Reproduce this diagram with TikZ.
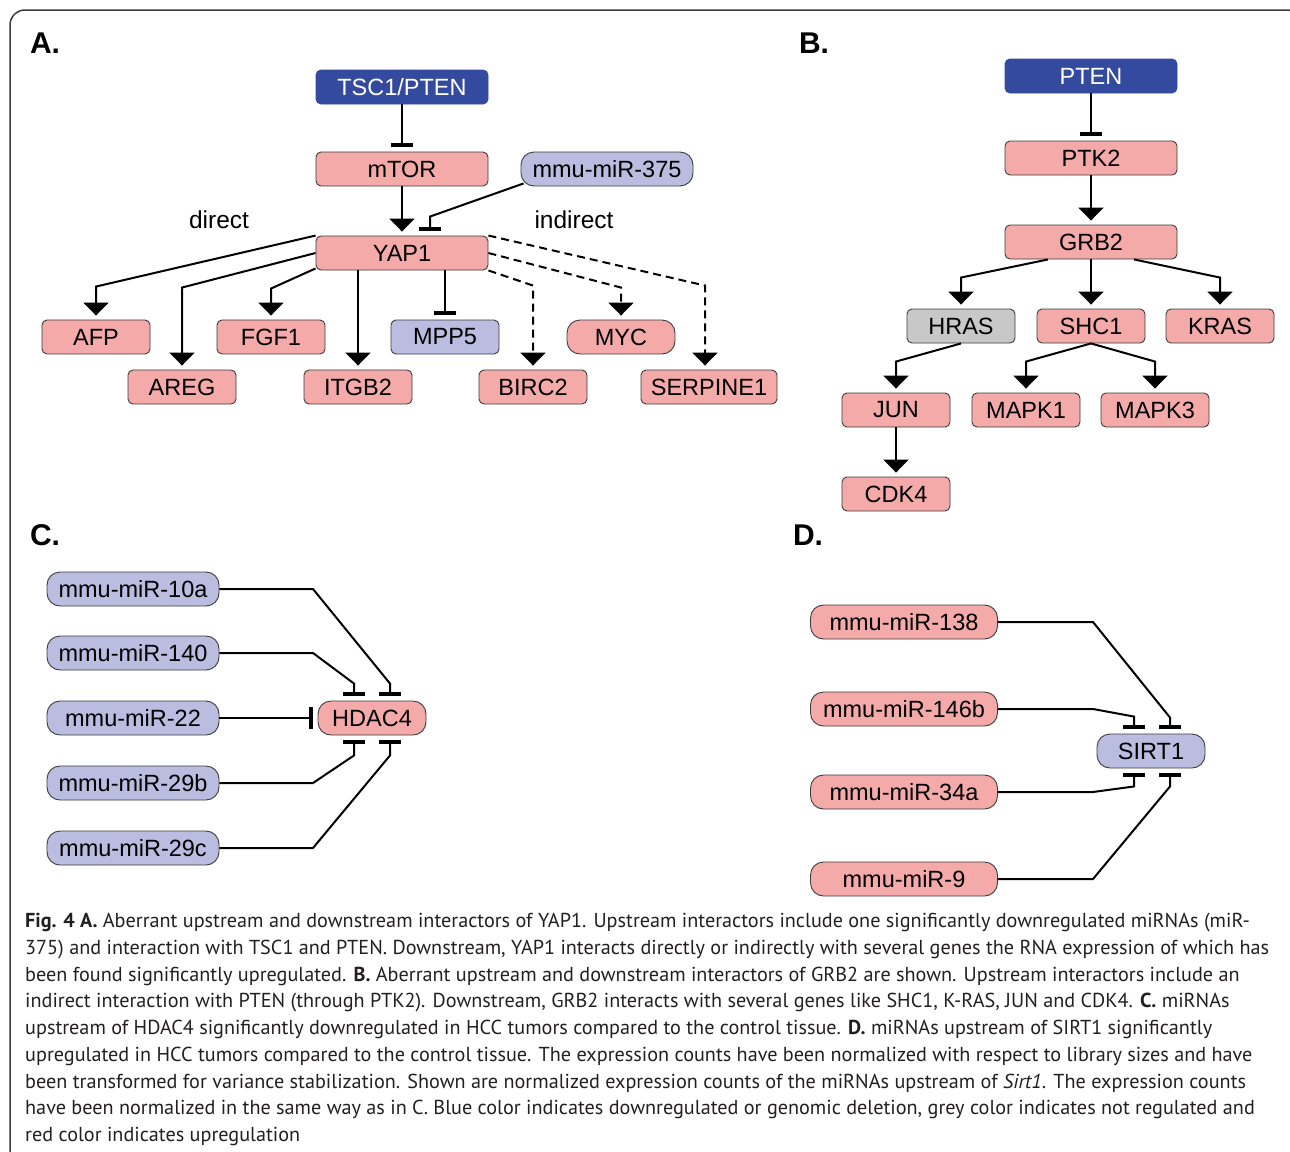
\documentclass[tikz,border=0pt]{standalone}
\usepackage{fontspec}
\setmainfont{Liberation Sans}
\newfontfamily\capfont{PT Sans}
\usetikzlibrary{arrows.meta,calc}
\definecolor{upred}{RGB}{245,170,170}
\definecolor{downblue}{RGB}{186,189,224}
\definecolor{delblue}{RGB}{52,74,158}
\definecolor{nogrey}{RGB}{200,200,200}
\definecolor{boxline}{RGB}{60,60,60}
\definecolor{captext}{RGB}{35,31,32}
\tikzset{%
        gene/.style = {draw = boxline, line width = 0.9pt, rounded corners = 5pt,
                minimum height = 34pt, minimum width = 108pt, inner sep = 0pt,
                font = \fontsize{23.5}{28}\selectfont},
        upgene/.style = {gene, fill = upred},
        downgene/.style = {gene, fill = downblue},
        greygene/.style = {gene, fill = nogrey},
        delgene/.style = {gene, fill = delblue, draw = delblue, text = white, minimum width = 172pt},
        wide/.style = {minimum width = 172pt},
        mir/.style = {rounded corners = 13pt},
        panel/.style = {font = \fontsize{30}{36}\bfseries\selectfont},
        note/.style = {font = \fontsize{24.5}{29}\selectfont},
        act/.style = {-{Triangle[width=25pt,length=13pt]}, line width = 2pt, shorten > = 4pt},
        ind/.style = {act, dash pattern = on 8pt off 5pt},
        inh/.style = {-{Bar[width=22pt,line width=4pt]}, line width = 2pt, shorten > = 5pt},
        frame/.style = {draw = boxline, line width = 1.5pt, rounded corners = 15pt}
}

\begin{document}
\begin{tikzpicture}[x=1pt, y=-1pt]
            \useasboundingbox (0,0) rectangle (1290,1151);
            \draw[frame] (10,10) rectangle (1302,1200);

            \node[panel] (la) at (45,43) {A.};
            \node[panel] (lb) at (814,43) {B.};
            \node[panel] (lc) at (45,535) {C.};
            \node[panel] (ld) at (808,535) {D.};

            % A
            \node[delgene] (tsc) at (402,87) {TSC1/PTEN};
            \node[upgene, wide] (mtor) at (402,169) {mTOR};
            \node[downgene, wide, mir] (m375) at (607,169) {mmu-miR-375};
            \node[upgene, wide] (yap) at (402,253) {YAP1};
            \node[note] (direct) at (219,220) {direct};
            \node[note] (indirect) at (574,220) {indirect};
            \node[upgene] (afp) at (96,337) {AFP};
            \node[upgene] (areg) at (182,387) {AREG};
            \node[upgene] (fgf) at (271,337) {FGF1};
            \node[upgene] (itgb) at (358,387) {ITGB2};
            \node[downgene] (mpp) at (445,337) {MPP5};
            \node[upgene] (birc) at (533,387) {BIRC2};
            \node[upgene, mir] (myc) at (621,337) {MYC};
            \node[upgene, minimum width=136pt] (serp) at (709,387) {SERPINE1};
            \draw[inh] (tsc) -- (mtor);
            \draw[act] (mtor) -- (yap);
            \draw[inh] ([xshift=3pt,yshift=3pt]m375.south west) -- ([xshift=28pt,yshift=19pt]yap.north)
                -- ([xshift=28pt]yap.north);
            \draw[act] (yap.north west) -- ([yshift=33pt]afp.north) -- (afp.north);
            \draw[act] (yap.west) -- ([yshift=82pt]areg.north) -- (areg.north);
            \draw[act] ([yshift=2pt]yap.south west) -- ([yshift=31pt]fgf.north) -- (fgf.north);
            \draw[act] (yap.south -| itgb.north) -- (itgb.north);
            \draw[inh] (yap.south -| mpp.north) -- (mpp.north);
            \draw[ind] (yap.south east) -- ([yshift=84pt]birc.north) -- (birc.north);
            \draw[ind] (yap.east) -- ([yshift=32pt]myc.north) -- (myc.north);
            \draw[ind] (yap.north east) -- ([xshift=-4pt,yshift=84pt]serp.north) -- ([xshift=-4pt]serp.north);

            % B
            \node[delgene] (pten) at (1091,76) {PTEN};
            \node[upgene, wide] (ptk) at (1091,158) {PTK2};
            \node[upgene, wide] (grb) at (1091,242) {GRB2};
            \node[greygene] (hras) at (961,326) {HRAS};
            \node[upgene] (shc) at (1091,326) {SHC1};
            \node[upgene] (kras) at (1220,326) {KRAS};
            \node[upgene] (jun) at (896,410) {JUN};
            \node[upgene] (mapka) at (1026,410) {MAPK1};
            \node[upgene] (mapkc) at (1155,410) {MAPK3};
            \node[upgene] (cdk) at (896,494) {CDK4};
            \draw[inh] (pten) -- (ptk);
            \draw[act] (ptk) -- (grb);
            \draw[act] ([xshift=-43pt]grb.south) -- ([yshift=31pt]hras.north) -- (hras.north);
            \draw[act] (grb) -- (shc);
            \draw[act] ([xshift=43pt]grb.south) -- ([yshift=31pt]kras.north) -- (kras.north);
            \draw[act] (hras.south) -- ([yshift=31pt]jun.north) -- (jun.north);
            \draw[act] (shc.south) -- ([yshift=31pt]mapka.north) -- (mapka.north);
            \draw[act] (shc.south) -- ([yshift=31pt]mapkc.north) -- (mapkc.north);
            \draw[act] (jun) -- (cdk);

            % C
            \coordinate (cx) at (313,0);
            \node[downgene, wide, mir] (m10a) at (133,589) {mmu-miR-10a};
            \node[downgene, wide, mir] (m140) at (133,653) {mmu-miR-140};
            \node[downgene, wide, mir] (m22) at (133,718) {mmu-miR-22};
            \node[downgene, wide, mir] (m29b) at (133,783) {mmu-miR-29b};
            \node[downgene, wide, mir] (m29c) at (133,848) {mmu-miR-29c};
            \node[upgene, mir] (hdac) at (372,718) {HDAC4};
            \draw[inh] (m10a.east) -- (m10a.east -| cx) -- ([xshift=18pt,yshift=17pt]hdac.north) -- ([xshift=18pt]hdac.north);
            \draw[inh] (m140.east) -- (m140.east -| cx) -- ([xshift=-18pt,yshift=17pt]hdac.north) -- ([xshift=-18pt]hdac.north);
            \draw[inh] (m22.east) -- (hdac.west);
            \draw[inh] (m29b.east) -- (m29b.east -| cx) -- ([xshift=-18pt,yshift=-20pt]hdac.south) -- ([xshift=-18pt]hdac.south);
            \draw[inh] (m29c.east) -- (m29c.east -| cx) -- ([xshift=18pt,yshift=-20pt]hdac.south) -- ([xshift=18pt]hdac.south);

            % D
            \coordinate (dx) at (1093,0);
            \node[upgene, mir, minimum width=187pt] (m138) at (904,622) {mmu-miR-138};
            \node[upgene, mir, minimum width=187pt] (m146) at (904,709) {mmu-miR-146b};
            \node[upgene, mir, minimum width=187pt] (m34a) at (904,792) {mmu-miR-34a};
            \node[upgene, mir, minimum width=187pt] (m9) at (904,879) {mmu-miR-9};
            \node[downgene, mir] (sirt) at (1151,751) {SIRT1};
            \draw[inh] (m138.east) -- (m138.east -| dx) -- ([xshift=19pt,yshift=16pt]sirt.north) -- ([xshift=19pt]sirt.north);
            \draw[inh] (m146.east) -- (m146.east -| dx) -- ([xshift=-17pt,yshift=17pt]sirt.north) -- ([xshift=-17pt]sirt.north);
            \draw[inh] (m34a.east) -- (m34a.east -| dx) -- ([xshift=-17pt,yshift=-18pt]sirt.south) -- ([xshift=-17pt]sirt.south);
            \draw[inh] (m9.east) -- (m9.east -| dx) -- ([xshift=19pt,yshift=-18pt]sirt.south) -- ([xshift=19pt]sirt.south);

            \node[anchor=north west, inner sep=0pt, align=left, text=captext,
                  font=\capfont\fontsize{20.2}{26.75}\selectfont] (cap) at (25,913)
            {\textbf{Fig. 4 A.} Aberrant upstream and downstream interactors of YAP1. Upstream interactors include one significantly downregulated miRNAs (miR-\\
            375) and interaction with TSC1 and PTEN. Downstream, YAP1 interacts directly or indirectly with several genes the RNA expression of which has\\
            been found significantly upregulated. \textbf{B.} Aberrant upstream and downstream interactors of GRB2 are shown. Upstream interactors include an\\
            indirect interaction with PTEN (through PTK2). Downstream, GRB2 interacts with several genes like SHC1, K-RAS, JUN and CDK4. \textbf{C.} miRNAs\\
            upstream of HDAC4 significantly downregulated in HCC tumors compared to the control tissue. \textbf{D.} miRNAs upstream of SIRT1 significantly\\
            upregulated in HCC tumors compared to the control tissue. The expression counts have been normalized with respect to library sizes and have\\
            been transformed for variance stabilization. Shown are normalized expression counts of the miRNAs upstream of \textit{Sirt1}. The expression counts\\
            have been normalized in the same way as in C. Blue color indicates downregulated or genomic deletion, grey color indicates not regulated and\\
            red color indicates upregulation};
\end{tikzpicture}
\end{document}
